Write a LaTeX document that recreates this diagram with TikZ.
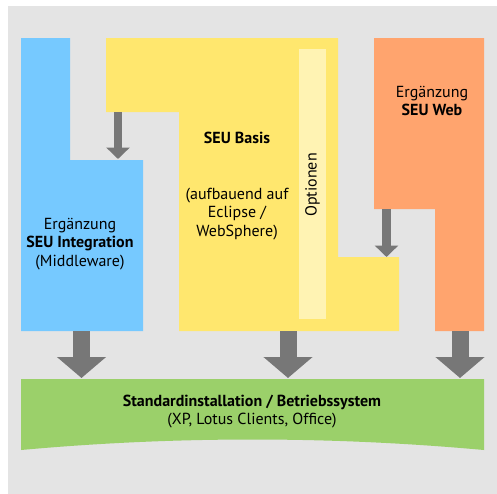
\documentclass[tikz,border=0pt]{standalone}
\usepackage{fontspec}
\setmainfont{PT Sans}
\usetikzlibrary{arrows.meta}
\definecolor{seublue}{RGB}{118,201,255}
\definecolor{seuyellow}{RGB}{255,231,110}
\definecolor{seuoption}{RGB}{255,243,179}
\definecolor{seuorange}{RGB}{255,164,110}
\definecolor{seugreen}{RGB}{155,208,106}
\definecolor{seuarrow}{RGB}{119,119,119}
\definecolor{bgedge}{RGB}{228,228,228}
\definecolor{bgmid}{RGB}{184,184,184}
\tikzset{
  bigarrow/.style={seuarrow, line width=17pt, -{Triangle[length=21pt,width=48pt]}},
  smallarrow/.style={seuarrow, line width=8.5pt, -{Triangle[length=11.5pt,width=23pt]}},
  label/.style={font=\fontsize{16}{18.8}\selectfont, align=center, inner sep=0pt}
}
\begin{document}
\begin{tikzpicture}[x=1pt,y=-1pt]
    \useasboundingbox (0,0) rectangle (497,493) ;
    \shade [left color=bgedge, middle color=bgmid, right color=bgedge] (8,6) rectangle (497,493) ;
    \fill [seublue] (21,38) -- (70,38) -- (70,160) -- (143,160) -- (143,331) -- (21,331) -- cycle ;
    \fill [seuyellow] (106,38) -- (338,38) -- (338,257) -- (399,257) -- (399,331)
      -- (179,331) -- (179,112) -- (106,112) -- cycle ;
    \fill [seuoption] (299,49) rectangle (326,319) ;
    \fill [seuorange] (374,38) -- (484,38) -- (484,331) -- (435,331) -- (435,209) -- (374,209) -- cycle ;
    \fill [seugreen] (21,379) -- (484,379) -- (484,450)
      .. controls (330,436) and (175,436) .. (21,450) -- cycle ;
    \coordinate (basisout) at (118,112) ;
    \coordinate (integrationin) at (118,159) ;
    \coordinate (webout) at (386.5,209) ;
    \coordinate (basisin) at (386.5,257) ;
    \draw [smallarrow] (basisout) -- (integrationin) ;
    \draw [smallarrow] (webout) -- (basisin) ;
    \foreach \x/\n in {81.5/integration,288/basis,460/web} {
      \coordinate (\n bottom) at (\x,331) ;
      \coordinate (\n base) at (\x,378) ;
      \draw [bigarrow] (\n bottom) -- (\n base) ;
    }
    \node [label] (basistitle) at (237,138) {\textbf{SEU Basis}} ;
    \node [label] (basisnote) at (237,214) {(aufbauend auf\\Eclipse /\\WebSphere)} ;
    \node [label, rotate=90] (optionen) at (312.5,185) {Optionen} ;
    \node [label] (webtitle) at (432,101) {Ergänzung\\\textbf{SEU Web}} ;
    \node [label] (integrationtitle) at (80,244) {Ergänzung\\\textbf{SEU Integration}\\(Middleware)} ;
    \node [label] (basetitle) at (252,402) {\textbf{Standardinstallation / Betriebssystem}} ;
    \node [label] (basenote) at (252,421) {(XP, Lotus Clients, Office)} ;
  \end{tikzpicture}
\end{document}
